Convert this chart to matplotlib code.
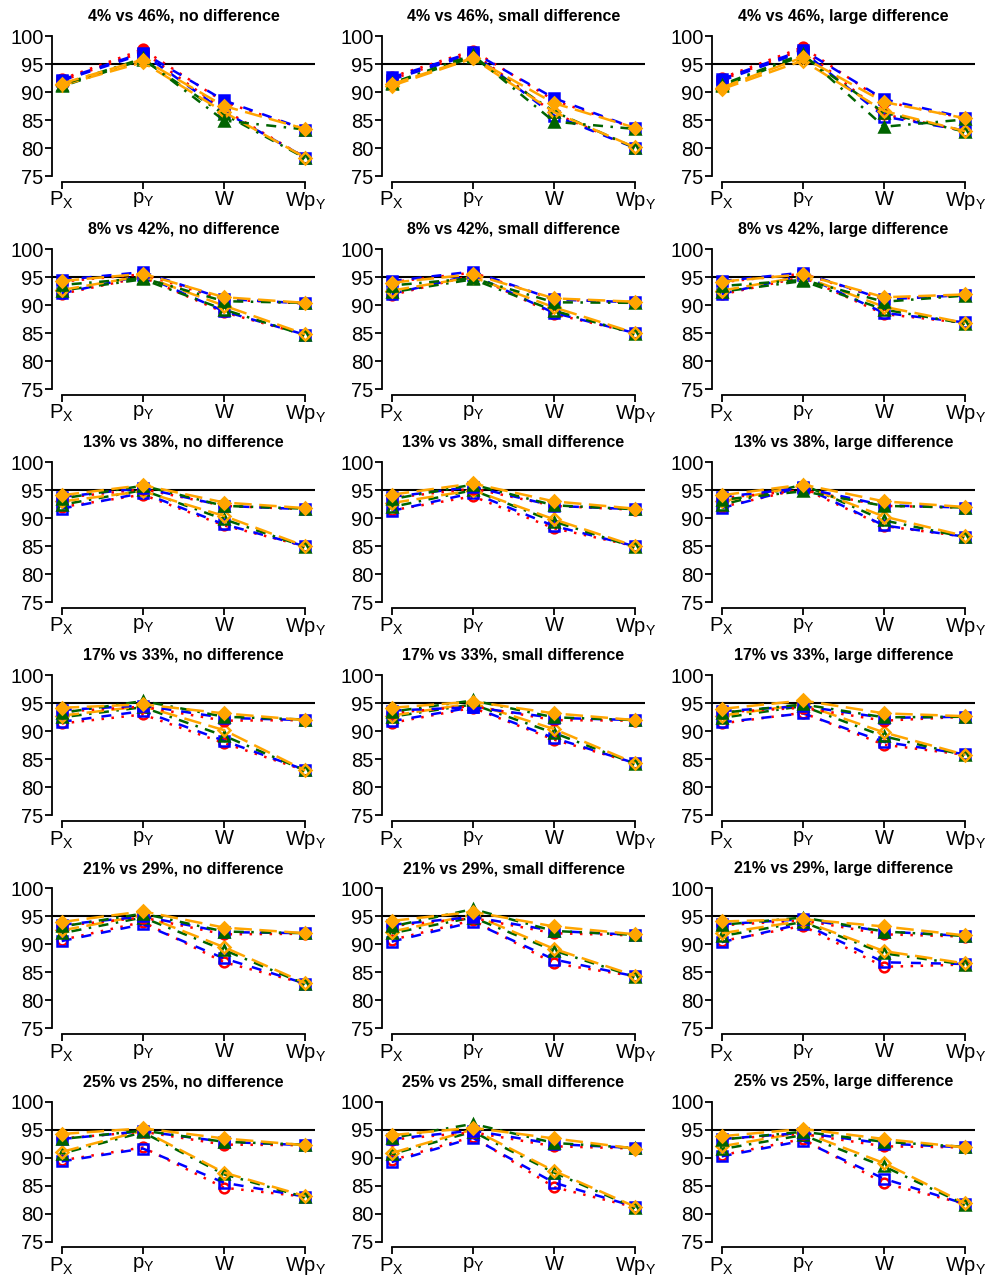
import matplotlib
matplotlib.use("Agg")
import matplotlib.pyplot as plt

plt.rcParams["font.family"] = ["Liberation Sans", "DejaVu Sans"]
plt.rcParams["mathtext.fontset"] = "custom"
plt.rcParams["mathtext.rm"] = "Liberation Sans"
plt.rcParams["mathtext.it"] = "Liberation Sans:italic"

# ---- data (coverage %) ----
x_labels = [r"$\mathrm{P_X}$", r"$\mathrm{p_Y}$", r"$\mathrm{W}$", r"$\mathrm{Wp_Y}$"]
row_labels = ["4% vs 46%", "8% vs 42%", "13% vs 38%", "17% vs 33%", "21% vs 29%", "25% vs 25%"]
col_labels = ["no difference", "small difference", "large difference"]
methods = ["red", "blue", "green", "orange"]

# each row: three panels, each panel: red, blue, green, orange series
filled_04_46 = [
    [[92.3, 97.6, 88.2, 83.3], [92.2, 97.0, 88.5, 83.3], [91.3, 96.0, 84.9, 83.3], [91.5, 95.8, 87.5, 83.4]],
    [[92.7, 97.4, 88.5, 83.5], [92.6, 97.1, 88.9, 83.5], [91.6, 96.6, 84.7, 83.4], [91.4, 96.1, 88.0, 83.6]],
    [[92.5, 98.0, 88.3, 85.3], [92.3, 97.5, 88.7, 85.4], [91.3, 96.8, 83.8, 85.1], [90.8, 96.2, 88.2, 85.3]],
]
open_04_46 = [
    [[92.0, 97.2, 86.8, 78.3], [92.0, 96.8, 86.5, 78.3], [91.0, 95.8, 86.0, 78.2], [91.2, 95.3, 86.4, 78.3]],
    [[92.3, 97.0, 86.2, 80.0], [92.2, 96.8, 85.8, 80.0], [91.5, 96.2, 86.5, 80.0], [91.1, 96.0, 86.4, 80.1]],
    [[92.2, 97.6, 86.0, 83.0], [92.0, 97.2, 85.6, 83.1], [91.0, 96.5, 86.3, 82.9], [90.5, 95.6, 86.6, 83.0]],
]
filled_08_42 = [
    [[94.2, 95.5, 91.0, 90.3], [94.5, 95.9, 91.1, 90.3], [93.6, 94.8, 90.7, 90.4], [94.3, 95.6, 91.4, 90.4]],
    [[94.1, 95.8, 91.0, 90.5], [94.3, 96.0, 91.0, 90.5], [93.5, 94.8, 90.5, 90.4], [94.0, 95.5, 91.2, 90.6]],
    [[94.1, 95.6, 91.0, 91.8], [94.3, 95.8, 91.0, 91.8], [93.4, 94.5, 90.6, 91.7], [94.2, 95.5, 91.4, 91.9]],
]
open_08_42 = [
    [[92.0, 95.0, 88.7, 84.7], [92.1, 95.3, 88.9, 84.7], [92.6, 94.6, 89.2, 84.6], [92.7, 95.2, 89.9, 84.8]],
    [[91.8, 95.3, 88.4, 85.0], [92.0, 95.4, 88.6, 85.0], [92.3, 94.6, 89.0, 84.9], [92.6, 95.0, 89.6, 85.0]],
    [[91.9, 95.0, 88.4, 86.8], [92.0, 95.3, 88.6, 86.9], [92.4, 94.3, 89.2, 86.7], [92.6, 95.1, 89.7, 86.8]],
]
filled_13_38 = [
    [[93.6, 95.2, 92.2, 91.6], [93.8, 95.4, 92.2, 91.6], [93.5, 95.8, 92.2, 91.7], [94.1, 95.9, 92.8, 91.8]],
    [[93.6, 95.3, 92.2, 91.5], [93.8, 95.6, 92.2, 91.6], [93.4, 96.0, 92.3, 91.6], [94.2, 96.2, 93.0, 91.7]],
    [[93.6, 95.0, 92.2, 91.9], [93.8, 95.4, 92.3, 91.9], [93.3, 94.8, 92.2, 91.9], [94.1, 96.0, 93.0, 92.0]],
]
open_13_38 = [
    [[92.0, 94.2, 88.7, 85.0], [91.7, 94.5, 88.9, 85.0], [92.4, 95.0, 89.8, 84.9], [93.0, 94.8, 90.4, 85.0]],
    [[91.4, 93.9, 88.2, 85.0], [91.3, 94.5, 88.6, 85.0], [92.0, 95.0, 89.4, 84.8], [92.7, 95.0, 89.8, 85.0]],
    [[92.0, 95.3, 88.6, 86.7], [91.8, 95.6, 88.7, 86.7], [92.4, 96.0, 89.6, 86.6], [93.0, 95.8, 90.3, 86.8]],
]
filled_17_33 = [
    [[93.5, 94.4, 91.9, 92.0], [93.8, 94.6, 92.4, 92.0], [93.3, 95.4, 92.6, 92.1], [94.2, 94.8, 93.2, 92.0]],
    [[93.3, 94.5, 92.0, 91.9], [93.7, 94.3, 92.4, 92.0], [93.5, 95.5, 92.5, 92.0], [94.2, 95.3, 93.2, 92.0]],
    [[93.4, 94.2, 91.9, 92.6], [93.6, 94.5, 92.4, 92.6], [93.3, 94.8, 92.5, 92.6], [94.0, 95.5, 93.2, 92.7]],
]
open_17_33 = [
    [[91.4, 93.0, 87.9, 83.0], [91.7, 93.6, 88.3, 83.1], [92.5, 94.3, 89.2, 83.0], [92.8, 94.5, 90.2, 83.0]],
    [[91.5, 94.2, 88.5, 84.3], [91.8, 94.3, 88.8, 84.3], [92.6, 94.8, 89.7, 84.2], [92.8, 95.0, 90.4, 84.3]],
    [[91.4, 93.3, 87.6, 85.8], [91.6, 93.2, 88.1, 85.9], [92.4, 94.5, 89.1, 85.7], [92.8, 94.8, 89.8, 85.8]],
]
filled_21_29 = [
    [[93.3, 94.8, 91.8, 91.9], [93.5, 95.0, 92.2, 92.0], [93.2, 95.5, 92.3, 92.0], [94.0, 95.9, 93.0, 92.0]],
    [[93.3, 94.7, 92.0, 91.6], [93.5, 94.9, 92.4, 91.7], [93.2, 96.3, 92.4, 91.7], [94.2, 95.8, 93.2, 91.8]],
    [[93.4, 94.3, 91.8, 91.4], [93.6, 94.5, 92.3, 91.5], [93.5, 94.8, 92.3, 91.5], [94.1, 94.5, 93.2, 91.6]],
]
open_21_29 = [
    [[90.8, 94.0, 86.8, 83.0], [90.6, 93.6, 87.5, 83.0], [92.0, 94.8, 89.0, 82.9], [92.5, 95.2, 89.5, 83.1]],
    [[90.8, 94.3, 86.6, 84.3], [90.5, 94.0, 87.3, 84.3], [92.0, 94.8, 88.9, 84.2], [92.3, 95.3, 89.2, 84.4]],
    [[90.6, 93.3, 86.0, 86.4], [90.4, 93.7, 86.8, 86.5], [91.5, 94.0, 88.4, 86.4], [92.0, 94.2, 88.8, 86.6]],
]
filled_25_25 = [
    [[93.4, 94.6, 92.3, 92.2], [93.3, 94.7, 92.8, 92.2], [93.3, 94.8, 92.8, 92.3], [94.2, 95.2, 93.4, 92.2]],
    [[93.2, 94.5, 92.0, 91.6], [93.3, 94.8, 92.4, 91.7], [93.5, 96.0, 92.6, 91.7], [94.0, 95.3, 93.4, 91.6]],
    [[93.3, 94.2, 92.0, 91.8], [93.3, 94.4, 92.5, 91.8], [93.2, 94.6, 92.8, 91.9], [93.8, 95.1, 93.3, 91.8]],
]
open_25_25 = [
    [[89.5, 91.8, 84.6, 83.0], [89.3, 91.6, 85.5, 83.0], [90.7, 94.5, 87.0, 82.9], [91.0, 94.8, 87.3, 83.1]],
    [[89.5, 93.7, 84.7, 81.1], [89.2, 93.5, 85.5, 81.2], [90.6, 94.6, 87.3, 81.0], [90.8, 95.0, 87.6, 81.2]],
    [[90.4, 93.3, 85.4, 81.7], [90.2, 93.0, 86.2, 81.7], [91.5, 94.0, 88.4, 81.6], [92.0, 94.5, 89.0, 81.8]],
]

filled_rows = [filled_04_46, filled_08_42, filled_13_38, filled_17_33, filled_21_29, filled_25_25]
open_rows = [open_04_46, open_08_42, open_13_38, open_17_33, open_21_29, open_25_25]

# ---- styles (R-like) ----
colors = {"red": "red", "blue": "blue", "green": "darkgreen", "orange": "orange"}
dashes = {"red": (1, 3), "blue": (4, 4), "green": (1, 3, 4, 3), "orange": (7, 3)}
markers = {"red": "o", "blue": "s", "green": "^", "orange": "D"}
msizes = {"red": 7, "blue": 7, "green": 7.5, "orange": 6}

W, H = 992, 1279
fig = plt.figure(figsize=(W / 100, H / 100), dpi=100)

col_left = [52, 382, 712]
ax_w, ax_h = 263, 151.2
row_pitch = 213.1
x = [1, 2, 3, 4]

for r in range(6):
    top = 30.4 + row_pitch * r
    for c in range(3):
        ax = fig.add_axes([col_left[c] / W, 1 - (top + ax_h) / H, ax_w / W, ax_h / H])
        ax.axhline(95, color="black", lw=1.5, zorder=1)
        for group, rows in (("open", open_rows), ("filled", filled_rows)):
            for m, y in zip(methods, rows[r][c]):
                col = colors[m]
                ax.plot(x, y, color=col, lw=1.8, dashes=dashes[m],
                        marker=markers[m], ms=msizes[m], mew=1.8,
                        mfc=col if group == "filled" else "none", mec=col,
                        zorder=3)
        ax.set_xlim(0.88, 4.12)
        ax.set_ylim(74, 101)
        ax.set_xticks(x)
        ax.set_xticklabels(x_labels)
        ax.set_yticks([75, 80, 85, 90, 95, 100])
        for s in ("top", "right"):
            ax.spines[s].set_visible(False)
        ax.spines["left"].set_bounds(75, 100)
        ax.spines["bottom"].set_bounds(1, 4)
        ax.spines["left"].set_linewidth(1.3)
        ax.spines["bottom"].set_linewidth(1.3)
        ax.tick_params(axis="both", direction="out", length=5, width=1.3,
                       labelsize=14.5, colors="black")
        ax.tick_params(axis="y", pad=1)
        ax.tick_params(axis="x", pad=1)
        ax.set_title(f"{row_labels[r]}, {col_labels[c]}", fontsize=11.5,
                     fontweight="bold", pad=7)

fig.savefig("out.png", dpi=100)
